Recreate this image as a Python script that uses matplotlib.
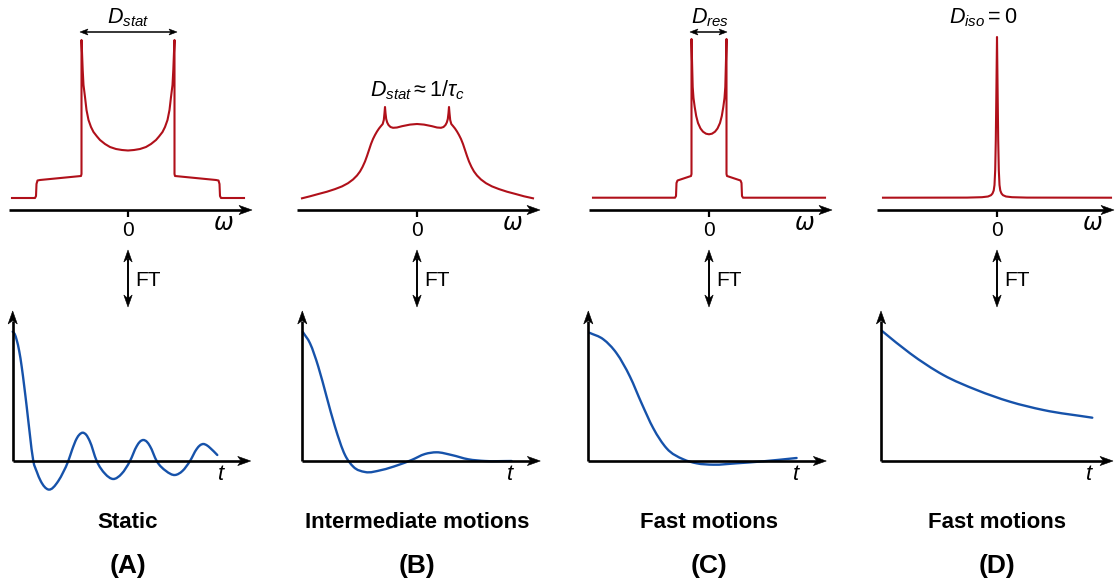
import numpy as np
import matplotlib
matplotlib.use("Agg")
import matplotlib.pyplot as plt
from matplotlib.path import Path
from matplotlib.patches import PathPatch, Polygon

plt.rcParams['font.family'] = ['Liberation Sans', 'DejaVu Sans']
plt.rcParams['mathtext.fontset'] = 'custom'
plt.rcParams['mathtext.rm'] = 'Liberation Sans'
plt.rcParams['mathtext.it'] = 'Liberation Sans:italic'
plt.rcParams['mathtext.bf'] = 'Liberation Sans:bold'
plt.rcParams['mathtext.fallback'] = 'stixsans'

W, H = 1115, 585
RED = '#B0101A'
BLUE = '#1652AA'

# ---------------- spectra (frequency offset, intensity; arbitrary units) ----------------
SPEC_A_W = [-116, -93, -92, -91.5, -90.5, -88, -47, -46.5, -46.5, -46, -45.3, -44.5, -43, -41.5,
            -39.5, -37, -34.5, -31, -28, -23, -18, -12, -6, 0, 6, 12, 18, 23, 28, 31, 34.5, 37,
            39.5, 41.5, 43, 44.5, 45.3, 46, 46.5, 46.5, 47, 88, 90.5, 91.5, 92, 93, 116]
SPEC_A_I = [12, 12, 14, 26, 29.5, 30, 34, 36, 170, 158, 140, 125, 113, 100,
            90, 83, 78, 73.5, 70, 66, 63, 61, 60, 59.5, 60, 61, 63, 66, 70, 73.5, 78, 83,
            90, 100, 113, 125, 140, 158, 170, 36, 34, 30, 29.5, 26, 14, 12, 12]

SPEC_B_W = [-115, -107, -99, -90, -82, -75, -69, -64, -60, -57, -54.5, -52, -50, -48, -46, -44,
            -42, -40, -38, -36, -34.3, -33.2, -32.5, -32, -31.5, -30.8, -29.8, -28.5, -26.5, -24,
            -20, -15, -7, 0, 7, 15, 20, 24, 26.5, 28.5, 29.8, 30.8, 31.5, 32, 32.5, 33.2, 34.3,
            36, 38, 40, 42, 44, 46, 48, 50, 52, 54.5, 57, 60, 64, 69, 75, 82, 90, 99, 107, 116]
SPEC_B_I = [11.7, 13.7, 15.9, 18.3, 20.9, 23.6, 26.8, 30.5, 34.5, 38.5, 43, 48.5, 54, 60, 66, 71,
            75, 78.5, 81.5, 84, 86, 90, 97, 103, 97, 91, 87.5, 85, 83, 82.2,
            82.5, 83.8, 85.4, 86, 85.4, 83.8, 82.5, 82.2, 83, 85, 87.5, 91, 97, 103, 97, 90, 86,
            84, 81.5, 78.5, 75, 71, 66, 60, 54, 48.5, 43, 38.5, 34.5, 30.5, 26.8, 23.6, 20.9, 18.3,
            15.9, 13.7, 11.7]

SPEC_C_W = [-116, -34, -33, -32.5, -31.5, -30, -18, -17.5, -17.5, -17, -16.3, -15.5, -14.3,
            -12.8, -11, -8.5, -6, -3, 0, 3, 6, 8.5, 11, 12.8, 14.3, 15.5, 16.3, 17, 17.5, 17.5,
            18, 30, 31.5, 32.5, 33, 34, 116]
SPEC_C_I = [12.3, 12.3, 14, 27, 29.5, 30, 34, 36, 171, 150, 123, 112, 103,
            94, 87, 81.5, 78.3, 76.3, 75.7, 76.3, 78.3, 81.5, 87, 94, 103, 112, 123, 150, 171, 36,
            34, 30, 29.5, 27, 14, 12.3, 12.3]

SPEC_D_W = [-114, -30, -15, -9, -6, -4.5, -3.3, -2.5, -1.8, -1.2, -0.6, 0,
            0.6, 1.2, 1.8, 2.5, 3.3, 4.5, 6, 9, 15, 30, 114]
SPEC_D_I = [12.3, 12.4, 12.8, 13.5, 14.8, 16.5, 19.5, 25, 40, 70, 120, 173,
            120, 70, 40, 25, 19.5, 16.5, 14.8, 13.5, 12.8, 12.4, 12.3]

# ---------------- free induction decays (time, signal; arbitrary units) ----------------
FID_A_T = [0, 2, 4, 6.5, 9, 11.5, 14, 17, 20.6, 24, 28, 35.6, 45.6, 50.6, 55.6, 59.5, 64, 66.8,
           70, 73.5, 77, 84, 92.3, 100.6, 109, 117.3, 124, 127.3, 130.6, 134, 137.3, 144, 153.2,
           162.3, 169.8, 177.3, 184, 187.3, 190.6, 194, 197.5, 204.6]
FID_A_S = [129.3, 127, 121, 110, 94.3, 75, 54.3, 28, 0, -10.5, -20, -28.5, -20, -11, 0, 11.5,
           22.5, 26.5, 28.3, 26.2, 20, 0, -12.7, -18, -12.7, 0, 14.8, 19.4, 21, 19.4, 14.8, 0,
           -9.9, -14, -9.9, 0, 12, 15.7, 17, 15.8, 13, 6]

FID_B_T = [0.5, 7.7, 16, 24.3, 32.7, 42.7, 51, 62.7, 79.3, 96, 109.3, 122.7, 134.3, 149.3,
           166, 182.7, 209.3]
FID_B_S = [129, 117.7, 94.3, 64.3, 34.3, 6, -5.7, -11, -9, -4, 1, 7, 8.7, 6,
           1.7, 0, 0]

FID_C_T = [1, 15, 28.3, 41.7, 53.3, 65, 78.3, 95, 108.3, 125, 148.3, 175, 208.3]
FID_C_S = [128.3, 121.7, 107.7, 84.3, 57.7, 32.7, 12.7, 1.7, -2.3, -3.7, -2.3, -0.3, 3]

FID_D_T = [0.7, 29, 62.3, 95.7, 129, 162.3, 211.3]
FID_D_S = [130.3, 107.7, 86, 71, 59.3, 51, 43.3]

SPECTRA = [(SPEC_A_W, SPEC_A_I), (SPEC_B_W, SPEC_B_I), (SPEC_C_W, SPEC_C_I), (SPEC_D_W, SPEC_D_I)]
FIDS = [(FID_A_T, FID_A_S), (FID_B_T, FID_B_S), (FID_C_T, FID_C_S), (FID_D_T, FID_D_S)]
MOTION_LABELS = ['Static', 'Intermediate motions', 'Fast motions', 'Fast motions']
PANEL_LABELS = ['(A)', '(B)', '(C)', '(D)']

# layout (pixels)
SPEC_X0 = [128, 417, 709, 997]
FID_X0 = [12.7, 302.3, 588.3, 881]
SPEC_Y0 = 210
FID_Y0 = 461
W_AXIS = [(-119, 124), (-120, 123), (-120, 123), (-120, 117)]
T_AXIS_END = [238, 238, 238, 232]

fig = plt.figure(figsize=(W / 100, H / 100), dpi=100)


def px_axes(x0, y0, x1, y1, ox, oy):
    """Axes over a pixel box, one data unit per pixel, data origin at (ox, oy)."""
    ax = fig.add_axes([x0 / W, 1 - y1 / H, (x1 - x0) / W, (y1 - y0) / H])
    ax.set_xlim(x0 - ox, x1 - ox)
    ax.set_ylim(oy - y1, oy - y0)
    ax.axis('off')
    return ax


def arrow(ax, p0, p1, lw, length=13.0, half=4.6, notch=3.5, both=False):
    """Line from p0 to p1 with a swept (concave) arrowhead at p1 (and p0 if both)."""
    p0 = np.asarray(p0, float)
    p1 = np.asarray(p1, float)

    def head(tip, back_dir):
        u = back_dir / np.hypot(*back_dir)
        n = np.array([-u[1], u[0]])
        pts = [tip, tip + u * length + n * half, tip + u * (length - notch),
               tip + u * length - n * half]
        ax.add_patch(Polygon(pts, closed=True, facecolor='black', edgecolor='black',
                             lw=0.4, joinstyle='miter'))
        return tip + u * (length - notch)

    end = head(p1, p0 - p1)
    start = head(p0, p1 - p0) if both else p0
    ax.plot([start[0], end[0]], [start[1], end[1]], color='black', lw=lw,
            solid_capstyle='butt')


def smooth_line(ax, x, y, **kw):
    """Smooth cubic curve through the given samples."""
    x = np.asarray(x, float)
    y = np.asarray(y, float)
    h = np.diff(x)
    d = np.diff(y) / h
    m = np.empty_like(x)
    m[0], m[-1] = d[0], d[-1]
    m[1:-1] = (d[:-1] * h[1:] + d[1:] * h[:-1]) / (h[:-1] + h[1:])
    verts = [(x[0], y[0])]
    codes = [Path.MOVETO]
    for i in range(len(h)):
        verts += [(x[i] + h[i] / 3, y[i] + m[i] * h[i] / 3),
                  (x[i + 1] - h[i] / 3, y[i + 1] - m[i + 1] * h[i] / 3),
                  (x[i + 1], y[i + 1])]
        codes += [Path.CURVE4] * 3
    ax.add_patch(PathPatch(Path(verts, codes), fill=False, capstyle='round', **kw))


overlay = fig.add_axes([0, 0, 1, 1])
overlay.set_xlim(0, W)
overlay.set_ylim(H, 0)
overlay.axis('off')

spec_axes = []
for k in range(4):
    sx = SPEC_X0[k]
    # spectrum
    ax = px_axes(sx - 135, 0, sx + 135, 250, sx, SPEC_Y0)
    spec_axes.append(ax)
    w, s = SPECTRA[k]
    ax.plot(w, s, color=RED, lw=1.5, solid_joinstyle='round')
    a0, a1 = W_AXIS[k]
    arrow(ax, (a0, 0), (a1, 0), 1.9)
    ax.plot([0, 0], [0, -7], color='black', lw=1.6, solid_capstyle='butt')
    ax.text(0, -20, '0', ha='center', va='center', fontsize=15)
    ax.text(96, -13, 'ω', ha='center', va='center', fontsize=17,
            family='DejaVu Sans', style='oblique')

    # decay
    fx = FID_X0[k]
    bx = px_axes(fx - 20, 295, fx + 250, 495, fx, FID_Y0)
    t, g = FIDS[k]
    smooth_line(bx, t, g, color=BLUE, lw=1.7)
    arrow(bx, (0, 0), (0, 150), 1.9)
    arrow(bx, (0, 0), (T_AXIS_END[k], 0), 1.9)
    bx.text(208, -14, 't', ha='center', va='center', fontsize=16, style='italic')

    # Fourier-transform link and captions
    arrow(overlay, (sx, 307), (sx, 250), 1.4, length=12, half=4.2, both=True)
    overlay.text(sx + 7, 281, 'FT', ha='left', va='center', fontsize=15)
    overlay.text(sx, 522, MOTION_LABELS[k], ha='center', va='center', fontsize=16, weight='bold')
    overlay.text(sx, 566, PANEL_LABELS[k], ha='center', va='center', fontsize=19, weight='bold')

# splitting annotations
axA, axB, axC, axD = spec_axes
arrow(axA, (-48, 178), (49, 178), 1.1, length=8, half=3, notch=2, both=True)
axA.text(0, 192, r'$D_{stat}$', ha='center', va='center', fontsize=15.5)
axB.text(0, 120, r'$D_{stat}\approx\mathrm{1/}\tau_c$', ha='center', va='center', fontsize=15.5)
arrow(axC, (-19, 178), (18, 178), 1.1, length=8, half=3, notch=2, both=True)
axC.text(1, 192, r'$D_{res}$', ha='center', va='center', fontsize=15.5)
axD.text(-14, 192, r'$D_{iso}=\mathrm{0}$', ha='center', va='center', fontsize=15.5)

fig.savefig('out.png', dpi=100)
